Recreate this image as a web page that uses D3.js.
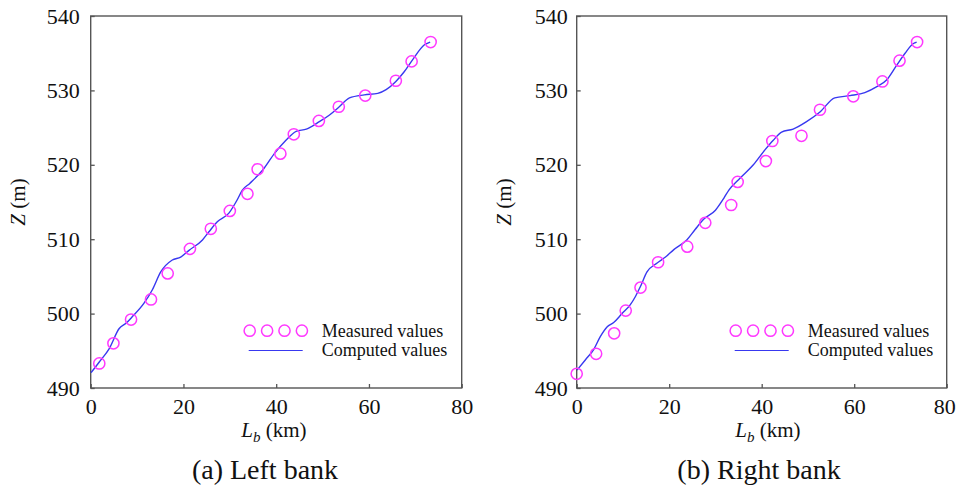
<!DOCTYPE html>
<html>
<head>
<meta charset="utf-8">
<script src="https://cdn.jsdelivr.net/npm/d3@7"></script>
<style>
  body { margin: 0; background: #fff; }
  svg text { font-family: "Liberation Serif", "Times New Roman", serif; fill: #111; }
</style>
</head>
<body>
<svg id="chart" width="956" height="488"></svg>
<script>
// axis ticks
const xTicks = [0, 20, 40, 60, 80];
const yTicks = [490, 500, 510, 520, 530, 540];

// (a) left bank
const leftMeasKm = [1.85, 4.9, 8.7, 13.0, 16.6, 21.4, 25.9, 30.0, 33.8, 36.0, 40.9, 43.8, 49.2, 53.5, 59.2, 65.8, 69.2, 73.3];
const leftMeasZ  = [493.3, 496.0, 499.2, 501.9, 505.4, 508.7, 511.4, 513.8, 516.1, 519.4, 521.5, 524.1, 525.9, 527.8, 529.3, 531.3, 533.9, 536.5];
const leftCompKm = [0.07, 1.85, 4.0, 6.15, 7.6, 9.0, 11.5, 13.3, 15.1, 17.6, 19.4, 21.2, 24.1, 25.5, 27.3, 29.8, 31.6, 32.7, 34.3, 37.1, 39.6, 42.1, 44.3, 46.5, 49.3, 51.5, 53.6, 55.8, 59.0, 61.9, 63.7, 65.8, 67.6, 69.4, 71.9, 73.2];
const leftCompZ  = [492.06, 493.5, 495.3, 498.0, 498.7, 499.6, 501.4, 503.2, 505.6, 507.2, 507.6, 508.5, 509.9, 511.0, 512.35, 513.5, 515.3, 516.6, 517.5, 519.3, 521.5, 523.3, 524.5, 524.8, 525.8, 526.7, 527.8, 529.0, 529.4, 529.6, 530.1, 531.2, 532.5, 534.1, 536.1, 536.5];

// (b) right bank
const rightMeasKm = [0, 4.2, 8.1, 10.6, 13.8, 17.6, 23.9, 27.8, 33.4, 34.8, 40.9, 42.3, 48.6, 52.6, 59.8, 66.1, 69.8, 73.6];
const rightMeasZ  = [491.9, 494.6, 497.35, 500.4, 503.5, 506.9, 509.0, 512.2, 514.6, 517.7, 520.5, 523.2, 523.9, 527.4, 529.2, 531.2, 534.0, 536.5];
const rightCompKm = [0.07, 1.9, 3.7, 5.1, 6.55, 8.0, 9.8, 11.6, 12.7, 13.75, 15.2, 17.4, 19.2, 21.0, 23.8, 25.6, 27.5, 30.0, 31.8, 32.9, 35.3, 38.2, 40.7, 42.5, 44.3, 46.8, 49.7, 52.6, 55.8, 59.1, 62.3, 64.9, 67.0, 69.2, 71.0, 72.8, 73.5];
const rightCompZ  = [492.4, 493.8, 495.2, 496.9, 498.2, 498.8, 500.0, 501.2, 502.3, 503.6, 505.6, 506.8, 507.6, 508.6, 509.9, 511.3, 512.7, 513.9, 515.5, 516.6, 518.2, 520.0, 522.0, 523.3, 524.4, 524.8, 525.8, 527.1, 529.0, 529.3, 529.7, 530.5, 531.4, 533.4, 535.0, 536.3, 536.5];

const legendLabels = ["Measured values", "Computed values"];

const svg = d3.select("#chart");
const serif = "Liberation Serif";
const frameColor = "#555";
const measColor = "#ff38ff";
const compColor = "#3838f0";

function drawPanel(opt) {
    const {left, right, top, bottom, caption, measKm, measZ, compKm, compZ} = opt;
    const x = d3.scaleLinear().domain([0, 80]).range([left, right]);
    const y = d3.scaleLinear().domain([490, 540]).range([bottom, top]);
    const g = svg.append("g");

    // frame
    g.append("rect")
        .attr("x", left).attr("y", top)
        .attr("width", right - left).attr("height", bottom - top)
        .attr("fill", "none").attr("stroke", frameColor).attr("stroke-width", 1.4);

    // inward ticks
    const xAxis = g.append("g")
        .attr("transform", "translate(0," + bottom + ")")
        .call(d3.axisBottom(x).tickValues(xTicks).tickSizeInner(-4).tickSizeOuter(0).tickPadding(9));
    const yAxis = g.append("g")
        .attr("transform", "translate(" + left + ",0)")
        .call(d3.axisLeft(y).tickValues(yTicks).tickSizeInner(-4).tickSizeOuter(0).tickPadding(opt.yPad));
    [xAxis, yAxis].forEach(a => {
        a.attr("font-family", serif).attr("font-size", 22);
        a.select(".domain").remove();
        a.selectAll("line").attr("stroke", frameColor).attr("stroke-width", 1.3);
        a.selectAll("text").attr("fill", "#111");
    });
    xAxis.selectAll("text").attr("dy", "0.75em");
    // keep the last label inside the page
    xAxis.selectAll(".tick text").filter(d => d === 80).attr("dx", opt.lastDx);

    // computed line
    const line = d3.line()
        .x(i => x(compKm[i]))
        .y(i => y(compZ[i]))
        .curve(d3.curveMonotoneX);
    g.append("path")
        .datum(d3.range(compKm.length))
        .attr("d", line)
        .attr("fill", "none")
        .attr("stroke", compColor)
        .attr("stroke-width", 1.4);

    // measured points
    g.selectAll("circle.meas")
        .data(d3.range(measKm.length))
        .join("circle")
        .attr("class", "meas")
        .attr("cx", i => x(measKm[i]))
        .attr("cy", i => y(measZ[i]))
        .attr("r", 5.6)
        .attr("fill", "none")
        .attr("stroke", measColor)
        .attr("stroke-width", 1.5);

    // legend
    const lx = left + 159;
    for (let k = 0; k < 4; k++) {
        g.append("circle")
            .attr("cx", lx + k * 17.4).attr("cy", 330.7).attr("r", 5.6)
            .attr("fill", "none").attr("stroke", measColor).attr("stroke-width", 1.5);
    }
    g.append("line")
        .attr("x1", lx - 1).attr("x2", lx + 53)
        .attr("y1", 350.5).attr("y2", 350.5)
        .attr("stroke", compColor).attr("stroke-width", 1.2);
    legendLabels.forEach((t, k) => {
        g.append("text")
            .attr("x", lx + 72).attr("y", 336.5 + k * 19.5)
            .attr("font-family", serif)
            .style("font-size", "18px")
            .text(t);
    });

    // axis titles
    const xt = g.append("text")
        .attr("x", opt.xTitleX).attr("y", 437)
        .attr("text-anchor", "middle")
        .attr("font-family", serif)
        .style("font-size", "21px");
    xt.append("tspan").style("font-style", "italic").text("L");
    xt.append("tspan").style("font-style", "italic").style("font-size", "15px").attr("dy", 5).text("b");
    xt.append("tspan").attr("dy", -5).text(" (km)");

    const yt = g.append("text")
        .attr("transform", "translate(" + (left - 66) + "," + ((top + bottom) / 2) + ") rotate(-90)")
        .attr("text-anchor", "middle")
        .attr("font-family", serif)
        .style("font-size", "21px");
    yt.append("tspan").style("font-style", "italic").text("Z");
    yt.append("tspan").text(" (m)");

    // caption
    g.append("text")
        .attr("x", opt.captionX).attr("y", 479)
        .attr("text-anchor", "middle")
        .attr("font-family", serif)
        .style("font-size", "28px")
        .text(caption);
}

drawPanel({
    left: 90.7, right: 461.7, top: 16, bottom: 388, yPad: 11, lastDx: 0,
    xTitleX: 274, captionX: 265, caption: "(a) Left bank",
    measKm: leftMeasKm, measZ: leftMeasZ, compKm: leftCompKm, compZ: leftCompZ
});
drawPanel({
    left: 576.7, right: 946.7, top: 16, bottom: 388, yPad: 9, lastDx: -2.5,
    xTitleX: 768, captionX: 759, caption: "(b) Right bank",
    measKm: rightMeasKm, measZ: rightMeasZ, compKm: rightCompKm, compZ: rightCompZ
});
</script>
</body>
</html>
